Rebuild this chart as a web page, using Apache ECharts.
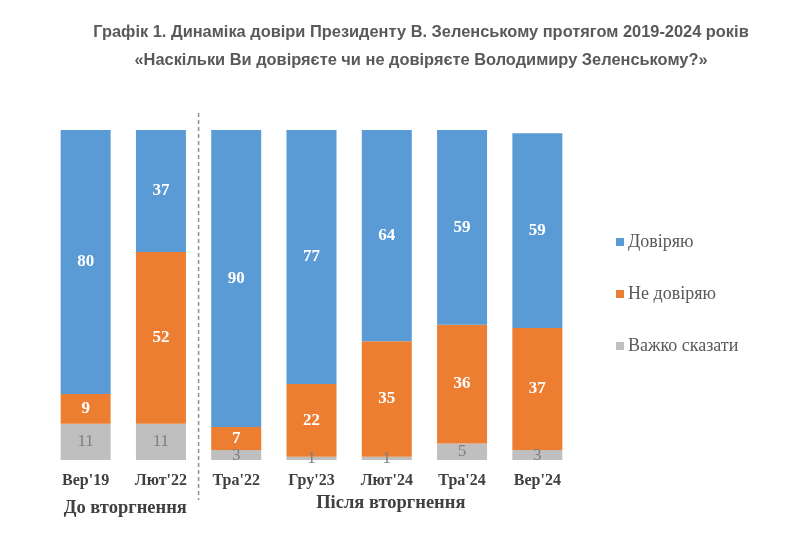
<!DOCTYPE html>
<html><head><meta charset="utf-8">
<script src="https://cdn.jsdelivr.net/npm/echarts@6/dist/echarts.min.js"></script>
<style>html,body{margin:0;padding:0;background:#fff}#c{width:811px;height:535px}</style>
</head><body><div id="c"></div>
<script>
const categories = ["Вер'19", "Лют'22", "Тра'22", "Гру'23", "Лют'24", "Тра'24", "Вер'24"];
const trust = [80, 37, 90, 77, 64, 59, 59];
const distrust = [9, 52, 7, 22, 35, 36, 37];
const hard = [11, 11, 3, 1, 1, 5, 3];
const seriesNames = ["Довіряю", "Не довіряю", "Важко сказати"];
const groupLabels = ["До вторгнення", "Після вторгнення"];
const titleLines = ["Графік 1. Динаміка довіри Президенту В. Зеленському протягом 2019-2024 років", "«Наскільки Ви довіряєте чи не довіряєте Володимиру Зеленському?»"];

const serif = "'Liberation Serif', 'DejaVu Serif', serif";
const chart = echarts.init(document.getElementById('c'));
const whiteLabel = {show:true, color:'#fff', fontFamily:serif, fontWeight:'bold', fontSize:17};
chart.setOption({
  backgroundColor:'#fff',
  animation:false,
  title:{text:titleLines.join('\n'), left:416, textAlign:'center', top:13,
    textStyle:{fontFamily:"'Liberation Sans', Arial, sans-serif", fontSize:16.4, fontWeight:'bold', color:'#595959', lineHeight:28}},
  legend:{orient:'vertical', left:611, top:228, itemGap:34, itemWidth:8, itemHeight:8, icon:'rect',
    data:seriesNames,
    textStyle:{fontFamily:serif, fontSize:18, color:'#595959', padding:[2,0,0,-1]}},
  grid:{left:48, width:527, top:130, height:330},
  xAxis:{type:'category', data:categories, axisLine:{show:false}, axisTick:{show:false},
    axisLabel:{fontFamily:serif, fontWeight:'bold', fontSize:16, color:'#404040', margin:13}},
  yAxis:{type:'value', min:0, max:100, show:false, splitLine:{show:false}},
  series:[
    {name:seriesNames[2], type:'bar', stack:'s', data:hard, barWidth:50, itemStyle:{color:'#BFBFBF'},
     label:{show:true, color:'#7F7F7F', fontFamily:serif, fontSize:17}},
    {name:seriesNames[1], type:'bar', stack:'s', data:distrust, itemStyle:{color:'#ED7D31'}, label:whiteLabel},
    {name:seriesNames[0], type:'bar', stack:'s', data:trust, itemStyle:{color:'#5B9BD5'}, label:whiteLabel}
  ]
});
const x1 = chart.convertToPixel({xAxisIndex:0}, categories[1]);
const x2 = chart.convertToPixel({xAxisIndex:0}, categories[2]);
const x0 = chart.convertToPixel({xAxisIndex:0}, categories[0]);
const x6 = chart.convertToPixel({xAxisIndex:0}, categories[6]);
const sep = (x1 + x2) / 2;
chart.setOption({graphic:[
  {type:'line', shape:{x1:sep, y1:113, x2:sep, y2:500}, style:{stroke:'#909090', lineWidth:1.5, lineDash:[4,3]}},
  {type:'text', x:(x0 + x1)/2 + 2, y:499, style:{text:groupLabels[0], textAlign:'center', font:"bold 18.5px 'Liberation Serif', serif", fill:'#404040'}},
  {type:'text', x:(x2 + x6)/2 + 4, y:494, style:{text:groupLabels[1], textAlign:'center', font:"bold 18.5px 'Liberation Serif', serif", fill:'#404040'}}
]});
</script></body></html>
